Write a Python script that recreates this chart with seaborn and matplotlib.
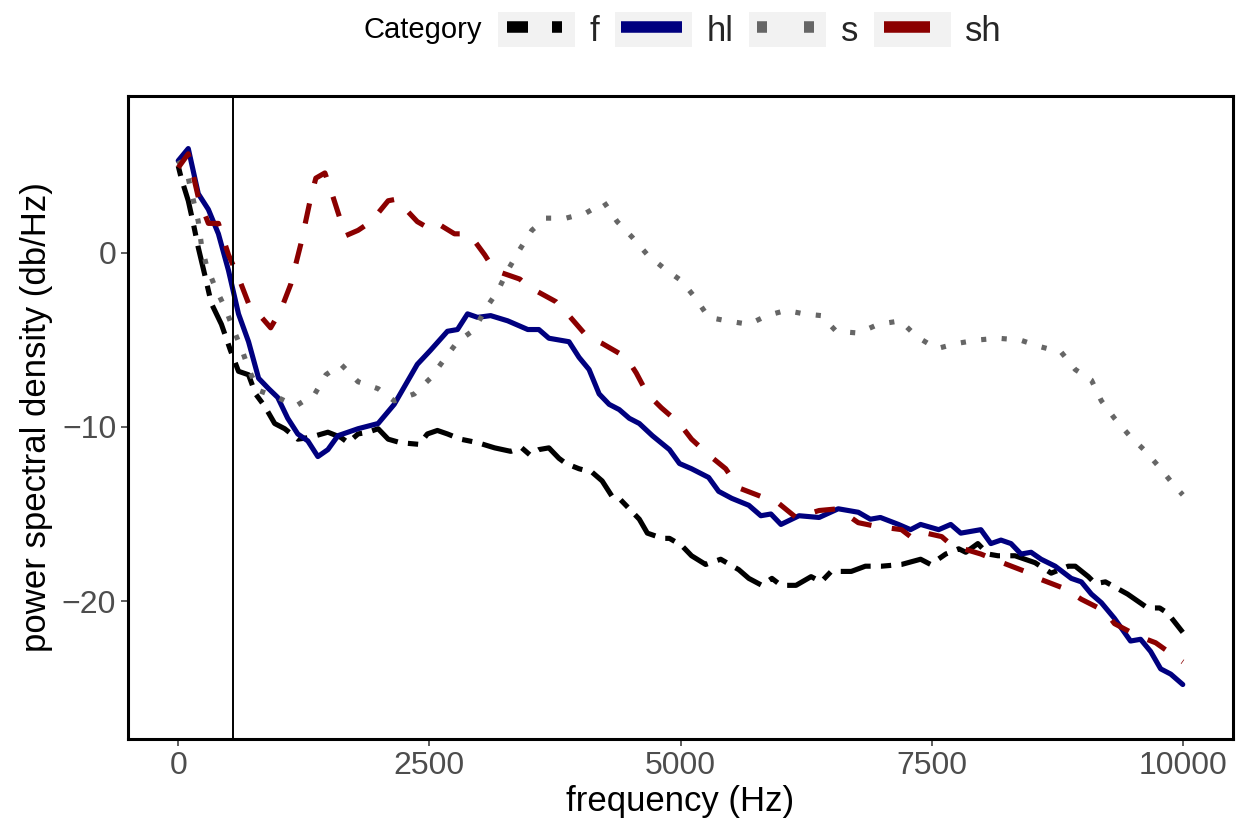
import matplotlib
matplotlib.use("Agg")
import matplotlib.pyplot as plt
from matplotlib.patches import Rectangle
from matplotlib.lines import Line2D
from matplotlib.legend_handler import HandlerTuple
import seaborn as sns
import pandas as pd

# ---------------- data ----------------
categories = ["f", "hl", "s", "sh"]

f_freq = [0, 30, 100, 150, 200, 270, 330, 430, 520, 600,
          700, 770, 860, 960, 1060, 1190, 1310, 1490, 1620, 1690,
          1790, 1890, 1990, 2090, 2210, 2400, 2480, 2580, 2680, 2810,
          2980, 3150, 3310, 3420, 3500, 3590, 3690, 3790, 3860, 3990,
          4120, 4220, 4320, 4390, 4490, 4590, 4670, 4820, 4890, 5010,
          5110, 5250, 5400, 5460, 5580, 5680, 5810, 5910, 6000, 6150,
          6300, 6400, 6500, 6700, 6840, 7000, 7200, 7390, 7490, 7640,
          7770, 7840, 7960, 8060, 8160, 8330, 8530, 8690, 8860, 8930,
          9060, 9130, 9230, 9450, 9650, 9770, 9850, 10000]
f_psd = [5.0, 4.3, 3.0, 1.7, 0.3, -1.4, -2.9, -4.1, -5.6, -6.8,
         -7.0, -8.1, -8.8, -9.8, -10.1, -10.7, -10.6, -10.3, -10.6, -10.9,
         -10.4, -10.3, -10.1, -10.7, -10.9, -11.0, -10.4, -10.2, -10.4, -10.7,
         -10.9, -11.2, -11.4, -11.2, -11.6, -11.3, -11.2, -11.8, -12.1, -12.4,
         -12.6, -13.1, -14.0, -14.1, -14.7, -15.3, -16.1, -16.4, -16.4, -16.8,
         -17.4, -17.9, -17.6, -17.8, -18.2, -18.7, -19.1, -18.7, -19.1, -19.1,
         -18.6, -18.9, -18.3, -18.3, -18.0, -18.0, -17.9, -17.6, -17.9, -17.3,
         -17.0, -17.2, -16.7, -17.3, -17.4, -17.4, -17.8, -18.4, -18.0, -18.0,
         -18.6, -19.0, -18.9, -19.6, -20.4, -20.4, -20.7, -21.8]

hl_freq = [0, 100, 200, 300, 400, 500, 600, 700, 800, 900,
           990, 1090, 1190, 1290, 1390, 1490, 1590, 1790, 1990, 2150,
           2280, 2380, 2510, 2680, 2780, 2880, 2980, 3110, 3280, 3480,
           3590, 3690, 3890, 3990, 4090, 4190, 4290, 4390, 4490, 4590,
           4720, 4890, 4990, 5110, 5280, 5380, 5510, 5680, 5800, 5900,
           6000, 6180, 6380, 6570, 6770, 6890, 6990, 7170, 7290, 7390,
           7570, 7690, 7790, 7990, 8090, 8190, 8290, 8390, 8490, 8590,
           8730, 8890, 8990, 9090, 9190, 9320, 9480, 9580, 9680, 9780,
           9880, 10000]
hl_psd = [5.3, 6.0, 3.4, 2.5, 1.1, -1.0, -3.5, -5.1, -7.2, -7.8,
          -8.3, -9.5, -10.4, -10.8, -11.7, -11.3, -10.5, -10.1, -9.8, -8.7,
          -7.4, -6.4, -5.6, -4.5, -4.4, -3.5, -3.7, -3.6, -3.9, -4.4,
          -4.4, -4.9, -5.1, -6.0, -6.7, -8.1, -8.7, -9.0, -9.5, -9.8,
          -10.5, -11.3, -12.1, -12.4, -12.9, -13.7, -14.1, -14.5, -15.1, -15.0,
          -15.6, -15.1, -15.2, -14.7, -14.9, -15.3, -15.2, -15.6, -15.9, -15.6,
          -15.9, -15.6, -16.1, -15.9, -16.7, -16.5, -16.7, -17.3, -17.2, -17.6,
          -18.0, -18.7, -18.9, -19.6, -20.1, -21.0, -22.3, -22.2, -22.9, -23.9,
          -24.2, -24.8]

s_freq = [0, 100, 200, 230, 280, 370, 470, 550, 630, 710,
          800, 990, 1170, 1360, 1470, 1620, 1790, 1990, 2150, 2350,
          2510, 2650, 2780, 2950, 3060, 3180, 3280, 3400, 3520, 3660,
          3860, 4060, 4240, 4370, 4520, 4670, 4840, 5010, 5150, 5280,
          5460, 5680, 5860, 6050, 6230, 6400, 6550, 6770, 6970, 7190,
          7350, 7550, 7750, 7960, 8160, 8380, 8590, 8790, 8930, 9090,
          9190, 9320, 9470, 9630, 9780, 9920, 10000]
s_psd = [5.3, 4.3, 1.8, 0.5, -0.7, -2.0, -3.2, -4.4, -5.5, -6.8,
         -7.9, -8.3, -8.8, -8.1, -7.0, -6.4, -7.4, -7.8, -8.5, -8.1,
         -7.2, -6.1, -5.1, -4.4, -3.2, -2.2, -1.0, 0.2, 1.3, 2.0,
         2.0, 2.3, 2.9, 1.8, 0.9, -0.1, -0.9, -1.6, -2.6, -3.7,
         -3.9, -4.1, -3.6, -3.3, -3.5, -3.6, -4.5, -4.6, -4.1, -3.9,
         -4.8, -5.5, -5.2, -5.0, -4.9, -5.0, -5.4, -5.7, -6.7, -7.3,
         -8.5, -9.5, -10.5, -11.4, -12.4, -13.4, -13.9]

sh_freq = [0, 100, 200, 300, 400, 500, 600, 700, 800, 920,
           1020, 1120, 1220, 1320, 1370, 1460, 1520, 1620, 1670, 1790,
           1920, 2090, 2180, 2250, 2380, 2500, 2580, 2750, 2850, 2910,
           3050, 3150, 3400, 3500, 3570, 3760, 3890, 4070, 4220, 4460,
           4560, 4670, 4810, 4990, 5110, 5280, 5450, 5580, 5760, 5980,
           6150, 6380, 6570, 6770, 6940, 7200, 7290, 7370, 7600, 7700,
           7990, 8160, 8430, 8560, 8830, 8990, 9230, 9320, 9550, 9730,
           10000]
sh_psd = [4.9, 5.7, 3.2, 1.7, 1.7, -0.1, -1.4, -2.9, -3.5, -4.3,
          -3.3, -1.8, 0.5, 3.2, 4.3, 4.6, 3.6, 1.8, 1.0, 1.3,
          1.8, 3.0, 3.1, 2.6, 1.8, 1.4, 1.7, 1.1, 1.1, 1.0,
          -0.1, -1.0, -1.5, -2.0, -2.2, -2.8, -3.6, -4.8, -5.2, -6.0,
          -6.9, -8.1, -8.9, -9.8, -10.7, -11.6, -12.4, -13.5, -13.9, -14.4,
          -15.2, -14.8, -14.7, -15.5, -15.7, -15.9, -16.3, -16.0, -16.3, -16.8,
          -17.3, -17.7, -18.3, -18.7, -19.3, -19.9, -20.6, -21.3, -22.0, -22.4,
          -23.5]

vline_freq = 550
x_ticks = [0, 2500, 5000, 7500, 10000]
y_ticks = [-20, -10, 0]

# ---------------- styling ----------------
colors = {"f": "#000000", "hl": "#00007F", "s": "#666666", "sh": "#8B0000"}
plot_styles = {"f": (0, (2, 2, 6, 2)), "hl": "-", "s": (0, (1, 3)), "sh": (0, (4, 4))}
leg_lw = 8.3
u = leg_lw * 100 / 72  # pixels per dash unit
legend_styles = {"f": (77 / u - 9 / u, (21 / u, 24 / u, 10 / u, 77 / u - 55 / u)),
                 "hl": (80 / u - 6 / u, (61 / u, 19 / u)),
                 "s": (47 / u - 8 / u, (10 / u, 37 / u)),
                 "sh": (80 / u - 10 / u, (46 / u, 34 / u))}

sns.set_style("white")
plt.rcParams["font.family"] = ["Liberation Sans", "DejaVu Sans"]

frames = []
for cat, fr, ps in [("f", f_freq, f_psd), ("hl", hl_freq, hl_psd),
                    ("s", s_freq, s_psd), ("sh", sh_freq, sh_psd)]:
    frames.append(pd.DataFrame({"frequency": fr, "psd": ps, "Category": cat}))
df = pd.concat(frames, ignore_index=True)

fig = plt.figure(figsize=(12.38, 8.24), dpi=100)
ax = fig.add_axes([128 / 1238, 1 - 739 / 824, (1233 - 128) / 1238, (739 - 96) / 824])

for cat in categories:
    sub = df[df["Category"] == cat]
    sns.lineplot(data=sub, x="frequency", y="psd", ax=ax, color=colors[cat],
                 linestyle=plot_styles[cat], linewidth=3.7, estimator=None,
                 sort=False, legend=False, dash_capstyle="butt")

ax.axvline(vline_freq, color="black", linewidth=1.4)

ax.set_xlim(-500, 10500)
ax.set_ylim(-27.93, 9.02)
ax.set_xticks(x_ticks)
ax.set_xticklabels([str(t) for t in x_ticks])
ax.set_yticks(y_ticks)
ax.tick_params(axis="both", which="major", direction="out", length=5, width=1.1,
               color="#333333", labelcolor="#4D4D4D", labelsize=23, pad=3.5,
               bottom=True, left=True)
for side in ["left", "bottom", "top", "right"]:
    ax.spines[side].set_visible(True)
    ax.spines[side].set_color("black")
    ax.spines[side].set_linewidth(2.2)
ax.grid(False)
ax.set_xlabel("frequency (Hz)", fontsize=25, color="black", labelpad=3)
ax.set_ylabel("power spectral density (db/Hz)", fontsize=25, color="black", labelpad=6)

# ---------------- legend ----------------
handles = []
for cat in categories:
    box = Rectangle((0, 0), 1, 1, facecolor="#F2F2F2", edgecolor="none")
    ln = Line2D([], [], color=colors[cat], linewidth=leg_lw,
                linestyle=legend_styles[cat], dash_capstyle="butt")
    handles.append((box, ln))

fsz = 25
leg = fig.legend(handles, categories, loc="center left",
                 bbox_to_anchor=(498 / 1238, 1 - 30 / 824), ncol=4,
                 frameon=False, fontsize=fsz, handlelength=77 / (fsz * 100 / 72),
                 handleheight=40 / (fsz * 100 / 72), handletextpad=0.42,
                 columnspacing=0.45, borderpad=0, borderaxespad=0, numpoints=1,
                 handler_map={tuple: HandlerTuple(ndivide=1, pad=0)})
fig.text(482 / 1238, 1 - 30 / 824, "Category", ha="right", va="center",
         fontsize=21, color="black")

fig.savefig("out.png", dpi=100)
